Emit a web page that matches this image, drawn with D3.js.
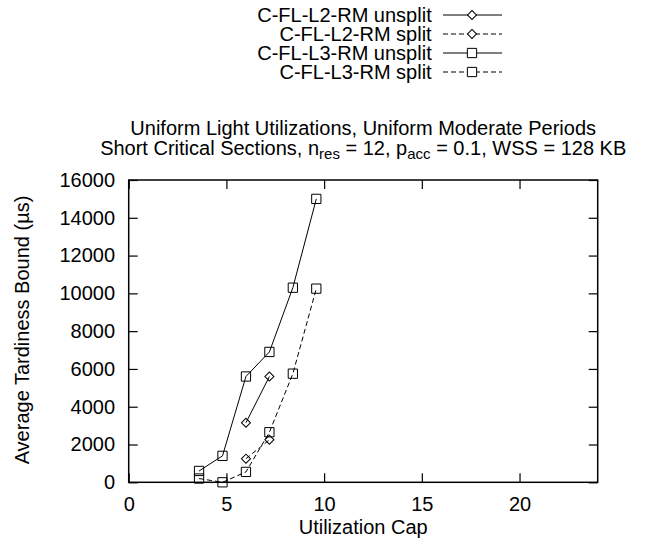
<!DOCTYPE html>
<html>
<head>
<meta charset="utf-8">
<script src="https://d3js.org/d3.v7.min.js"></script>
<style>
  body { margin: 0; background: white; }
  text { font-family: "Liberation Sans", Arial, sans-serif; }
</style>
</head>
<body>
<div id="my_dataviz"></div>
<script>
// data
var utilCaps = [3.6, 4.8, 6.0, 7.2, 8.4, 9.6];
var l3Unsplit = [600, 1400, 5600, 6900, 10300, 15000];
var l3Split = [200, 0, 550, 2650, 5750, 10250];
var l2Caps = [6.0, 7.2];
var l2Unsplit = [3150, 5600];
var l2Split = [1250, 2250];
var seriesNames = ["C-FL-L2-RM unsplit", "C-FL-L2-RM split", "C-FL-L3-RM unsplit", "C-FL-L3-RM split"];
var xTickValues = [0, 5, 10, 15, 20];
var yTickValues = [0, 2000, 4000, 6000, 8000, 10000, 12000, 14000, 16000];

var fontSize = 20;

// set the dimensions and margins of the graph
var margin = {top: 180, right: 50.3, bottom: 65.7, left: 128.7},
    width = 648 - margin.left - margin.right,
    height = 548 - margin.top - margin.bottom;

var root = d3.select("#my_dataviz")
  .append("svg")
    .attr("width", 648)
    .attr("height", 548);

var svg = root.append("g")
    .attr("transform", "translate(" + margin.left + "," + margin.top + ")");

// series definitions
var series = [
  {name: seriesNames[0], xs: l2Caps, ys: l2Unsplit, dash: null, shape: "diamond"},
  {name: seriesNames[1], xs: l2Caps, ys: l2Split, dash: "5,3", shape: "diamond"},
  {name: seriesNames[2], xs: utilCaps, ys: l3Unsplit, dash: null, shape: "square"},
  {name: seriesNames[3], xs: utilCaps, ys: l3Split, dash: "5,3", shape: "square"}
];

var squareSym = d3.symbol().type(d3.symbolSquare).size(86);
var diamondSym = d3.symbol().type(d3.symbolSquare).size(41);
function markerPath(shape) { return shape === "square" ? squareSym() : diamondSym(); }
function markerTransform(shape, cx, cy) {
  return "translate(" + cx + "," + cy + ")" + (shape === "diamond" ? " rotate(45)" : "");
}

// ---------------------------//
//       AXIS  AND SCALE      //
// ---------------------------//
var x = d3.scaleLinear()
  .domain([0, 24])
  .range([0, width]);
var y = d3.scaleLinear()
  .domain([0, 16000])
  .range([height, 0]);

function styleAxis(g) {
  g.attr("font-size", fontSize)
   .attr("font-family", "Liberation Sans, Arial, sans-serif");
  g.select(".domain").remove();
  g.selectAll(".tick line").attr("stroke", "black").attr("stroke-width", 1.2);
  g.selectAll(".tick text").attr("fill", "black");
}

svg.append("g")
  .attr("transform", "translate(0," + height + ")")
  .call(d3.axisBottom(x).tickValues(xTickValues).tickSizeInner(-9).tickSizeOuter(0).tickPadding(14.5))
  .call(styleAxis);

svg.append("g")
  .call(d3.axisTop(x).tickValues(xTickValues).tickSizeInner(-9).tickSizeOuter(0).tickFormat(""))
  .call(styleAxis);

svg.append("g")
  .call(d3.axisLeft(y).tickValues(yTickValues).tickFormat(d3.format("d")).tickSizeInner(-9).tickSizeOuter(0).tickPadding(13.7))
  .call(styleAxis);

svg.append("g")
  .attr("transform", "translate(" + width + ",0)")
  .call(d3.axisRight(y).tickValues(yTickValues).tickSizeInner(-9).tickSizeOuter(0).tickFormat(""))
  .call(styleAxis);

// frame
svg.append("rect")
  .attr("x", 0).attr("y", 0)
  .attr("width", width).attr("height", height)
  .attr("fill", "none")
  .attr("stroke", "black")
  .attr("stroke-width", 1.5);

// axis labels
svg.append("text")
  .attr("text-anchor", "middle")
  .attr("x", width / 2)
  .attr("y", height + 52)
  .attr("font-size", fontSize)
  .text("Utilization Cap");

svg.append("text")
  .attr("text-anchor", "middle")
  .attr("transform", "translate(" + (29 - margin.left) + "," + (330 - margin.top) + ") rotate(-90)")
  .attr("font-size", fontSize)
  .text("Average Tardiness Bound (\u00b5s)");

// title
var title = root.append("g").attr("font-size", fontSize).attr("text-anchor", "middle");
title.append("text")
  .attr("x", margin.left + width / 2)
  .attr("y", 135)
  .text("Uniform Light Utilizations, Uniform Moderate Periods");
var t2 = title.append("text")
  .attr("x", margin.left + width / 2)
  .attr("y", 155);
t2.append("tspan").text("Short Critical Sections, n");
t2.append("tspan").attr("font-size", 15).attr("dy", 4).text("res");
t2.append("tspan").attr("dy", -4).text(" = 12, p");
t2.append("tspan").attr("font-size", 15).attr("dy", 4).text("acc");
t2.append("tspan").attr("dy", -4).text(" = 0.1, WSS = 128 KB");

// ---------------------------//
//       LINES AND POINTS     //
// ---------------------------//
var line = d3.line()
  .x(function(d) { return x(d[0]); })
  .y(function(d) { return y(d[1]); });

series.forEach(function(s) {
  var pts = s.xs.map(function(v, i) { return [v, s.ys[i]]; });
  svg.append("path")
    .datum(pts)
    .attr("d", line)
    .attr("fill", "none")
    .attr("stroke", "black")
    .attr("stroke-width", 1)
    .attr("stroke-dasharray", s.dash);
  svg.append("g")
    .selectAll("path")
    .data(pts)
    .enter()
    .append("path")
      .attr("d", markerPath(s.shape))
      .attr("transform", function(d) { return markerTransform(s.shape, x(d[0]), y(d[1])); })
      .attr("fill", "none")
      .attr("stroke", "black")
      .attr("stroke-width", 1);
});

// ---------------------------//
//       LEGEND               //
// ---------------------------//
var legend = root.append("g");
var legendRows = legend.selectAll("g")
  .data(series)
  .enter()
  .append("g")
    .attr("transform", function(d, i) { return "translate(0," + (15 + i * 19) + ")"; });

legendRows.append("text")
  .attr("x", 431.7)
  .attr("y", 7)
  .attr("text-anchor", "end")
  .attr("font-size", fontSize)
  .text(function(d) { return d.name; });

legendRows.append("line")
  .attr("x1", 443).attr("x2", 502)
  .attr("y1", 0).attr("y2", 0)
  .attr("stroke", "black")
  .attr("stroke-width", 1)
  .attr("stroke-dasharray", function(d) { return d.dash; });

legendRows.append("path")
  .attr("d", function(d) { return markerPath(d.shape); })
  .attr("transform", function(d) { return markerTransform(d.shape, 472, 0); })
  .attr("fill", "white")
  .attr("stroke", "black")
  .attr("stroke-width", 1);
</script>
</body>
</html>
